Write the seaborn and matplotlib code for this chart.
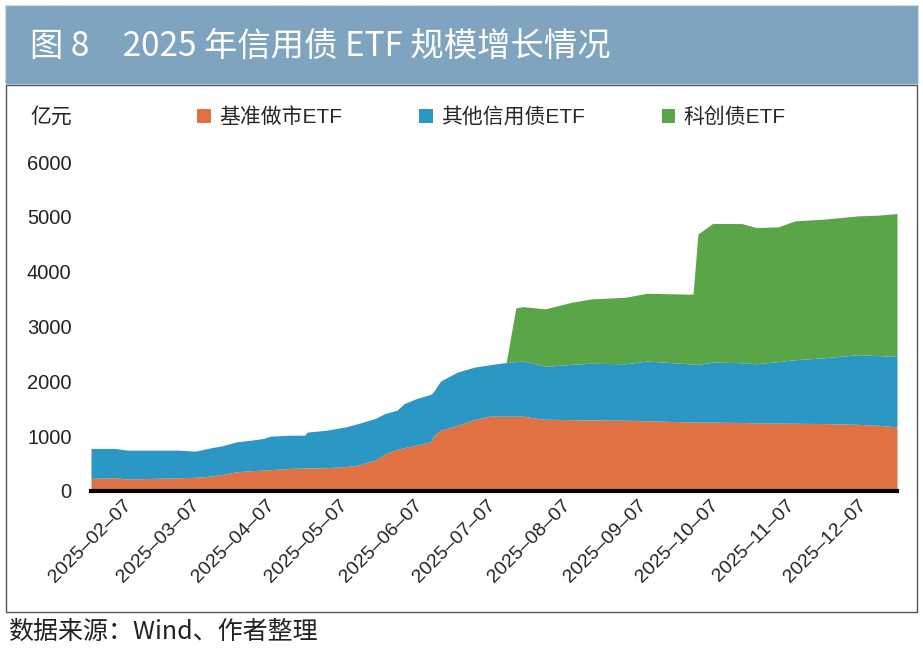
import pandas as pd
import matplotlib.pyplot as plt
import matplotlib.dates as mdates
from matplotlib.patches import Rectangle
import seaborn as sns

# =============================================================================
# Data (亿元)
# =============================================================================
dates = ['2025-01-20', '2025-01-30', '2025-02-04', '2025-02-25', '2025-03-04',
         '2025-03-11', '2025-03-15', '2025-03-21', '2025-03-27', '2025-04-01',
         '2025-04-04', '2025-04-12', '2025-04-18', '2025-04-19', '2025-04-27',
         '2025-05-05', '2025-05-10', '2025-05-17', '2025-05-21', '2025-05-26',
         '2025-05-29', '2025-06-03', '2025-06-09', '2025-06-10', '2025-06-13',
         '2025-06-20', '2025-06-27', '2025-07-03', '2025-07-08', '2025-07-10',
         '2025-07-14', '2025-07-17', '2025-07-22', '2025-07-26', '2025-08-06',
         '2025-08-14', '2025-08-28', '2025-09-06', '2025-09-23', '2025-09-25',
         '2025-09-27', '2025-10-03', '2025-10-15', '2025-10-21', '2025-10-30',
         '2025-11-06', '2025-11-18', '2025-12-02', '2025-12-10', '2025-12-18']

benchmark_mm = [230, 242, 218, 242, 250, 273, 303, 351, 370, 382,
                390, 412, 418, 420, 424, 445, 473, 564, 673, 758,
                790, 836, 897, 1000, 1109, 1200, 1303, 1364, 1364, 1364,
                1364, 1364, 1330, 1309, 1300, 1295, 1291, 1280, 1260, 1260,
                1258, 1255, 1250, 1242, 1238, 1235, 1230, 1215, 1200, 1169]

other_credit = [546, 534, 527, 503, 477, 521, 521, 546, 557, 576,
                610, 606, 600, 653, 685, 725, 757, 757, 739, 715,
                804, 849, 867, 806, 897, 970, 957, 936, 969, 976,
                996, 1006, 990, 964, 1010, 1035, 1029, 1090, 1061, 1055,
                1051, 1096, 1090, 1079, 1122, 1159, 1200, 1270, 1270, 1285]

sci_tech = [0, 0, 0, 0, 0, 0, 0, 0, 0, 0,
            0, 0, 0, 0, 0, 0, 0, 0, 0, 0,
            0, 0, 0, 0, 0, 0, 0, 0, 0, 0,
            979, 993, 1020, 1048, 1132, 1173, 1213, 1236, 1269, 1279,
            2376, 2527, 2538, 2484, 2457, 2533, 2528, 2533, 2560, 2606]

series_names = ['基准做市ETF', '其他信用债ETF', '科创债ETF']
tick_dates = ['2025-02-07', '2025-03-07', '2025-04-07', '2025-05-07',
              '2025-06-07', '2025-07-07', '2025-08-07', '2025-09-07',
              '2025-10-07', '2025-11-07', '2025-12-07']
y_ticks = [0, 1000, 2000, 3000, 4000, 5000, 6000]

df = pd.DataFrame({'date': pd.to_datetime(dates),
                   series_names[0]: benchmark_mm,
                   series_names[1]: other_credit,
                   series_names[2]: sci_tech})

# =============================================================================
# Style
# =============================================================================
sns.set_theme(style='white')
plt.rcParams['font.family'] = ['Liberation Sans', 'Noto Sans CJK SC', 'DejaVu Sans']
plt.rcParams['axes.unicode_minus'] = False

colors = ['#DF7143', '#2A97C5', '#59A548']
W, H = 923, 651

fig = plt.figure(figsize=(9.23, 6.51), dpi=100)
fig.patch.set_facecolor('white')

# header band + title
fig.patches.append(Rectangle((5 / W, 1 - 84 / H), 913 / W, 79 / H,
                             transform=fig.transFigure, facecolor='#7FA4BF',
                             edgecolor='#CFDCE6', linewidth=0.8, zorder=0))
fig.text(30 / W, 1 - 46 / H, '图 8\u30002025 年信用债 ETF 规模增长情况',
         color='white', fontsize=24, va='center', ha='left',
         family=['Noto Sans CJK SC', 'DejaVu Sans'])

# box around the chart
fig.patches.append(Rectangle((6 / W, 1 - 612 / H), 911 / W, 527 / H,
                             transform=fig.transFigure, facecolor='none',
                             edgecolor='#555555', linewidth=1.0, zorder=0))

ax = fig.add_axes([91 / W, 1 - 491 / H, 806 / W, 329 / H])
polys = ax.stackplot(df['date'], df[series_names[0]], df[series_names[1]],
                     df[series_names[2]], colors=colors, labels=series_names,
                     linewidth=0)

ax.set_xlim(df['date'].iloc[0], df['date'].iloc[-1])
ax.set_ylim(0, 6000)
ax.set_yticks(y_ticks)
ax.set_xticks(pd.to_datetime(tick_dates))
ax.xaxis.set_major_formatter(mdates.DateFormatter('%Y\u2013%m\u2013%d'))
ax.tick_params(axis='y', length=0, pad=14, labelsize=14.5, labelcolor='#222222')
ax.tick_params(axis='x', length=0, pad=4, labelsize=14, labelcolor='#222222')
plt.setp(ax.get_xticklabels(), rotation=45, ha='right')

for side in ['left', 'right', 'top']:
    ax.spines[side].set_visible(False)
ax.spines['bottom'].set_color('black')
ax.spines['bottom'].set_linewidth(3)
ax.grid(False)
ax.set_xlabel('')
ax.set_ylabel('')

# unit label and legend
fig.text(30 / W, 1 - 117 / H, '亿元', fontsize=15, va='center', ha='left',
         color='#222222')
fig.legend(polys, series_names, loc='center left',
           bbox_to_anchor=(197 / W, 1 - 117 / H), ncol=3, frameon=False,
           fontsize=15, handlelength=0.65, handleheight=0.65,
           handletextpad=0.4, columnspacing=3.7, borderpad=0, borderaxespad=0)

# source note
fig.text(8 / W, 1 - 632 / H, '数据来源：Wind、作者整理', fontsize=18,
         va='center', ha='left', color='#222222',
         family=['Noto Sans CJK SC', 'DejaVu Sans'])

plt.savefig('out.png', dpi=100)
